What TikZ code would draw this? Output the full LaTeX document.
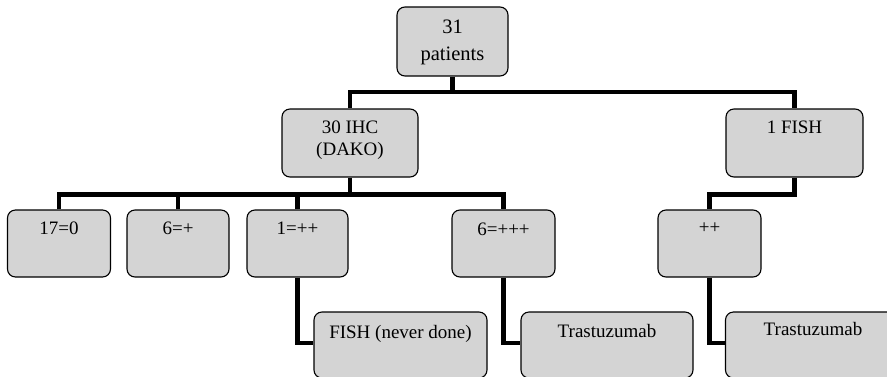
\documentclass[tikz,border=0pt]{standalone}
\usepackage{fontspec}
\setmainfont{Liberation Serif}
\definecolor{boxgray}{RGB}{212,212,212}
\begin{document}
\begin{tikzpicture}[x=1pt,y=-1pt,
  box/.style={draw=black, line width=1.1pt, rounded corners=8pt, fill=boxgray, inner sep=0pt},
  txt/.style={inner sep=0pt, anchor=base, font=\fontsize{19}{22}\selectfont},
  bigtxt/.style={inner sep=0pt, anchor=base, font=\fontsize{20.5}{24}\selectfont},
  conn/.style={line width=4.4pt, line join=miter}]
\clip (0,0) rectangle (887,376);
% boxes
\node[box, minimum width=111pt, minimum height=69pt] (top) at (452.5,41.5) {};
\node[box, minimum width=136pt, minimum height=68pt] (ihc) at (350,143) {};
\node[box, minimum width=137pt, minimum height=68pt] (fone) at (794.5,143) {};
\node[box, minimum width=103pt, minimum height=67pt] (c1) at (59,243.5) {};
\node[box, minimum width=102pt, minimum height=67pt] (c2) at (178,243.5) {};
\node[box, minimum width=101pt, minimum height=67pt] (c3) at (297.5,243.5) {};
\node[box, minimum width=103pt, minimum height=67pt] (c4) at (503.5,243.5) {};
\node[box, minimum width=103pt, minimum height=67pt] (pp) at (709.5,243.5) {};
\node[box, minimum width=173pt, minimum height=66pt] (fnd) at (400.5,345) {};
\node[box, minimum width=172pt, minimum height=66pt] (tr1) at (607,345) {};
\node[box, minimum width=173pt, minimum height=66pt] (tr2) at (812,345) {};
% texts
\node[bigtxt] (t0a) at (452.5,33) {31};
\node[bigtxt] (t0b) at (452.5,60) {patients};
\node[txt] (t1a) at (350,133) {30 IHC};
\node[txt] (t1b) at (350,155) {(DAKO)};
\node[txt] (t2) at (794.5,133) {1 FISH};
\node[txt] (t3) at (59,234) {17=0};
\node[txt] (t4) at (178,234) {6=+};
\node[txt] (t5) at (297.5,234) {1=++};
\node[txt] (t6) at (503.5,235) {6=+++};
\node[txt] (t7) at (709.5,233) {++};
\node[txt] (t8) at (400.5,338) {FISH (never done)};
\node[txt] (t9) at (607,337) {Trastuzumab};
\node[txt] (t10) at (813,335) {Trastuzumab};
% connectors
\coordinate (j0) at (452.5,92);
\coordinate (j1) at (350,194.5);
\draw[conn] (top.south) -- (j0);
\draw[conn] (ihc.north) |- (fone.north |- j0) -- (fone.north);
\draw[conn] (ihc.south) -- (j1);
\draw[conn] (c1.north) |- (c4.north |- j1) -- (c4.north);
\draw[conn] (c2.north) -- (c2.north |- j1);
\draw[conn] (c3.north) -- (c3.north |- j1);
\draw[conn] (fone.south) |- (pp.north |- j1) -- (pp.north);
\draw[conn] (c3.south) |- ([yshift=2pt]fnd.west);
\draw[conn] (c4.south) |- ([yshift=2pt]tr1.west);
\draw[conn] (pp.south) |- ([yshift=2pt]tr2.west);
\end{tikzpicture}
\end{document}
